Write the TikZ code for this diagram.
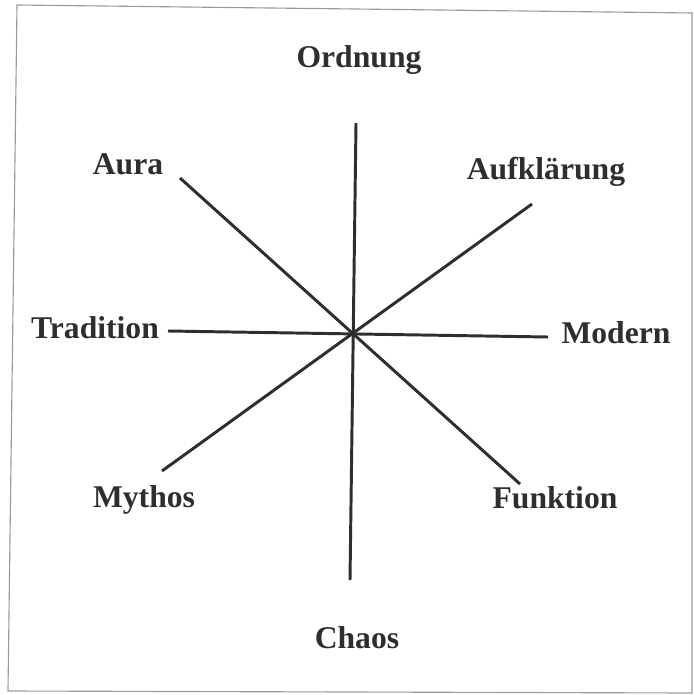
\documentclass[tikz,border=0pt]{standalone}
\usepackage{fontspec}
\setmainfont{Liberation Serif}
\usepackage{xcolor}
\usetikzlibrary{positioning}

\definecolor{inkgray}{HTML}{2E2E2E}
\definecolor{framegray}{HTML}{9A9A9A}

\begin{document}
\begin{tikzpicture}[x=0.025cm, y=-0.025cm,
        label/.style={anchor=base, text=inkgray, font=\fontsize{22.5}{26}\selectfont\bfseries, inner sep=0pt},
        spoke/.style={draw=inkgray, line width=2.1pt}]
        \useasboundingbox (0,0) rectangle (693,695);

        % Frame
        \draw [framegray, line width=0.8pt] (17,5) -- (692,13) -- (692,693) -- (8,691) -- cycle;

        % Labels
        \node (ordnung) [label] at (359,68) {Ordnung};
        \node (aura) [label] at (128,175) {Aura};
        \node (aufkl) [label] at (546,180) {Aufklärung};
        \node (tradition) [label] at (95,338) {Tradition};
        \node (modern) [label] at (616,343) {Modern};
        \node (mythos) [label] at (144,507) {Mythos};
        \node (funktion) [label] at (555,508) {Funktion};
        \node (chaos) [label] at (357,648) {Chaos};

        % Centre and free ends
        \coordinate (mid) at (353,333);
        \coordinate (endO) at (356,123);
        \coordinate (endC) at (350,580);
        \coordinate (endAu) at (180,178);
        \coordinate (endF) at (520,484);
        \coordinate (endAk) at (532,204);
        \coordinate (endMy) at (162,471);
        \coordinate (endT) at (168,331);
        \coordinate (endMo) at (548,337);

        % Spokes
        \draw [spoke] (endO) -- (endC);
        \draw [spoke] (endAu) -- (endF);
        \draw [spoke] (endAk) -- (endMy);
        \draw [spoke] (endT) -- (endMo);
\end{tikzpicture}
\end{document}
